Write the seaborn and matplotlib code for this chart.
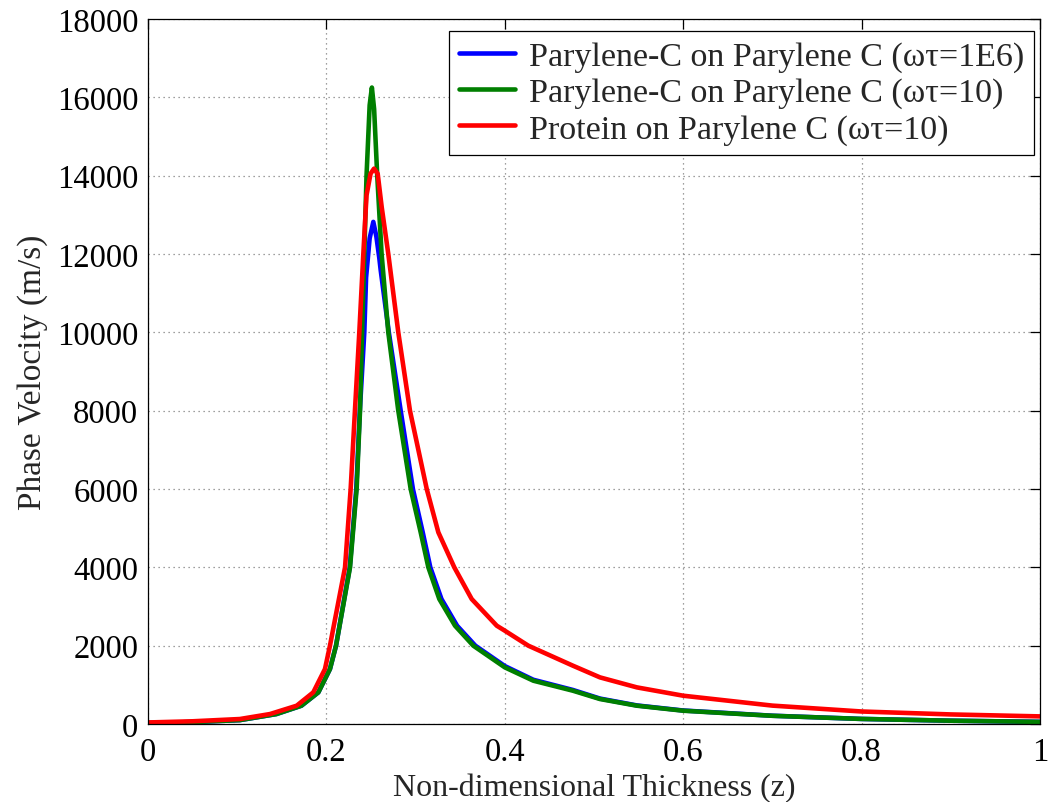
import numpy as np
import pandas as pd
import matplotlib
matplotlib.use("Agg")
import matplotlib.pyplot as plt
import seaborn as sns

# ---- data ----
labels = ["Parylene-C on Parylene C (ωτ=1E6)",
          "Parylene-C on Parylene C (ωτ=10)",
          "Protein on Parylene C (ωτ=10)"]
colors = ["#0000ff", "#007f00", "#ff0000"]

x_blue = [0.0, 0.05, 0.103, 0.144, 0.172, 0.191, 0.204, 0.2108, 0.2262, 0.2335,
          0.2375, 0.2425, 0.2445, 0.2485, 0.2526, 0.2560, 0.2593, 0.2608,
          0.2700, 0.2833, 0.2970, 0.3080, 0.3165, 0.3290, 0.3465, 0.3670,
          0.400, 0.432, 0.4763, 0.5067, 0.548, 0.60, 0.70, 0.80, 0.90, 1.0]
y_blue = [25, 50, 100, 255, 468, 809, 1404, 2000, 4000, 6000,
          8000, 10000, 11400, 12400, 12820, 12450, 11900, 11600,
          10000, 8000, 6000, 4894, 4000, 3191, 2510, 2000,
          1480, 1130, 870, 650, 475, 345, 212, 130, 85, 55]

x_green = [0.0, 0.05, 0.103, 0.144, 0.172, 0.191, 0.204, 0.2108, 0.2265, 0.2339,
           0.2377, 0.2400, 0.2425, 0.2450, 0.2485, 0.2510, 0.2535, 0.2570,
           0.2619, 0.2694, 0.2806, 0.2945, 0.3057, 0.3143, 0.3266, 0.3442,
           0.3647, 0.400, 0.432, 0.4763, 0.5067, 0.548, 0.60, 0.70, 0.80,
           0.90, 1.0]
y_green = [25, 50, 100, 255, 468, 809, 1404, 2000, 4000, 6000,
           8000, 10000, 12000, 14000, 15800, 16250, 15700, 14000,
           12000, 10000, 8000, 6000, 4894, 4000, 3191, 2510,
           2000, 1447, 1106, 851, 638, 468, 340, 210, 130,
           85, 55]

x_red = [0.0, 0.05, 0.103, 0.1368, 0.1667, 0.1853, 0.1984, 0.204, 0.2209,
         0.2272, 0.232, 0.2369, 0.2414, 0.2450, 0.2495, 0.2534, 0.2575,
         0.2620, 0.2694, 0.2806, 0.2937, 0.3125, 0.3255, 0.3434, 0.3629,
         0.391, 0.400, 0.4264, 0.4763, 0.5067, 0.548, 0.60, 0.70, 0.80,
         0.90, 1.0]
y_red = [40, 70, 128, 255, 468, 809, 1404, 2000, 4000,
         6000, 8000, 10000, 12000, 13500, 14050, 14180, 14050,
         13200, 12000, 10000, 8000, 6000, 4894, 4000, 3191,
         2510, 2383, 2000, 1490, 1191, 936, 723, 470, 320,
         245, 195]

xs = [x_blue, x_green, x_red]
ys = [y_blue, y_green, y_red]

frames = []
for lab, xv, yv in zip(labels, xs, ys):
    frames.append(pd.DataFrame({"z": xv, "v": yv, "series": lab}))
df = pd.concat(frames, ignore_index=True)

sns.set_style("white")
plt.rcParams["font.family"] = ["Liberation Serif", "DejaVu Serif"]

fig = plt.figure(figsize=(10.48, 8.03), dpi=100)
ax = fig.add_axes([0.1412, 0.0971, 0.8512, 0.878])

sns.lineplot(data=df, x="z", y="v", hue="series", hue_order=labels,
             palette=dict(zip(labels, colors)), estimator=None, sort=False,
             linewidth=3.3, ax=ax)

ax.set_xlim(0, 1)
ax.set_ylim(0, 18000)
ax.set_xticks([0, 0.2, 0.4, 0.6, 0.8, 1.0])
ax.set_xticklabels(["0", "0.2", "0.4", "0.6", "0.8", "1"])
ax.set_yticks(np.arange(0, 18001, 2000))
ax.set_yticklabels([str(v) for v in range(0, 18001, 2000)])
ax.grid(True, color="#808080", linestyle=(0, (1, 3)), linewidth=0.9)
ax.tick_params(direction="in", length=7, width=0.9, labelsize=23.5,
               top=True, right=True, colors="black")
ax.tick_params(axis="x", pad=9)
ax.tick_params(axis="y", pad=7)
for s in ax.spines.values():
    s.set_visible(True)
    s.set_color("black")
    s.set_linewidth(0.9)

ax.set_xlabel("Non-dimensional Thickness (z)", fontsize=23, labelpad=4)
ax.set_ylabel("Phase Velocity (m/s)", fontsize=24, labelpad=6)

leg = ax.legend(loc="upper right", bbox_to_anchor=(0.9933, 0.983),
                fontsize=24.5, frameon=True, fancybox=False,
                edgecolor="black", framealpha=1, handlelength=1.65,
                handletextpad=0.4, borderpad=0.3, labelspacing=0.15,
                borderaxespad=0.0)
leg.get_frame().set_linewidth(0.9)
for h in leg.get_lines():
    h.set_linewidth(3.3)

fig.savefig("out.png", dpi=100)
